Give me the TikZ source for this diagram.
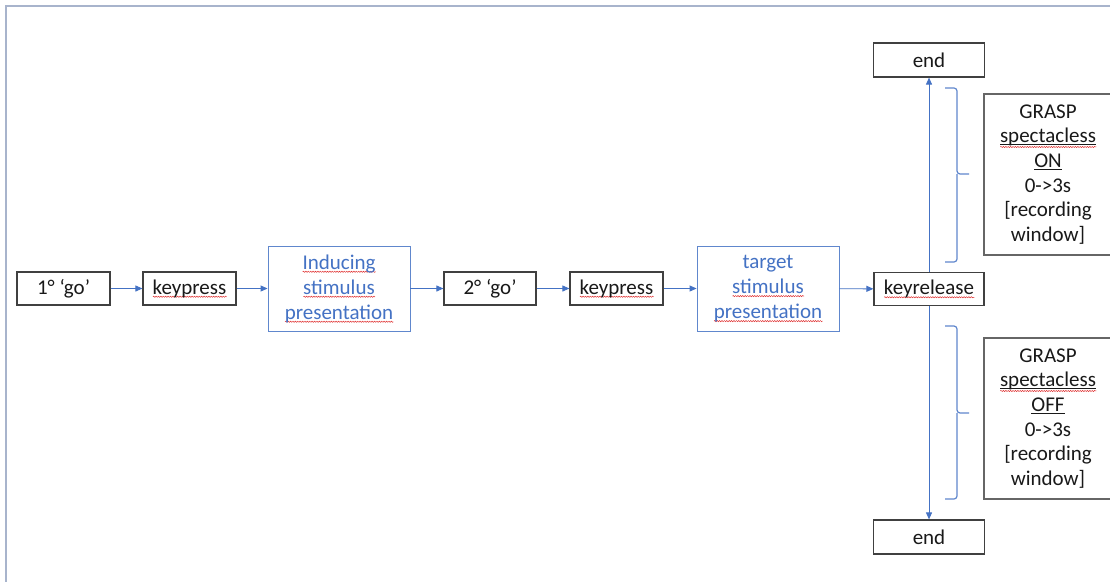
\documentclass[tikz,border=0pt]{standalone}
\usepackage{fontspec}
\setmainfont{Carlito}
\usetikzlibrary{arrows.meta,decorations.pathmorphing}
\definecolor{lnblue}{HTML}{4472C4}
\definecolor{txblue}{HTML}{4472C4}
\definecolor{bxgray}{HTML}{404040}
\definecolor{frgray}{HTML}{A8B4CC}
\definecolor{sqred}{HTML}{E03030}
\newsavebox\sqbox
\newlength\sqlen
\newcommand\sqw[2][3.5pt]{\sbox\sqbox{#2}\setlength\sqlen{\wd\sqbox}\leavevmode\rlap{\raisebox{-#1}[0pt][0pt]{\tikz[x=1pt,y=1pt]\draw[sqred,line width=0.5pt,decorate,decoration={snake,amplitude=0.6pt,segment length=2.4pt}] (0,0)--(\sqlen,0);}}\usebox\sqbox}
\newcommand\ulb[1]{\sbox\sqbox{#1}\setlength\sqlen{\wd\sqbox}\leavevmode\rlap{\rule[-2.2pt]{\sqlen}{1pt}}\usebox\sqbox}
\tikzset{
  blk/.style={draw=bxgray,line width=1.2pt,minimum height=33pt,inner sep=0pt,font=\fontsize{21}{25}\selectfont,text=black!90},
  stim/.style={draw=lnblue!85,line width=0.9pt,minimum width=142pt,minimum height=85pt,inner sep=0pt,align=center,font=\fontsize{21}{25}\selectfont,text=txblue},
  info/.style={draw=bxgray!80,line width=1.2pt,minimum width=128pt,minimum height=161pt,inner sep=0pt,align=center,font=\fontsize{21}{24.7}\selectfont,text=black!90},
  conn/.style={draw=lnblue,line width=0.9pt,-{Triangle[length=7pt,width=6pt]}},
  brc/.style={draw=lnblue!85,line width=1.2pt,rounded corners=3pt},
}
\begin{document}
\begin{tikzpicture}[x=1pt,y=-1pt]
\useasboundingbox (0,0) rectangle (1110,581);
\clip (0,0) rectangle (1110,581);
\fill[white] (0,0) rectangle (1110,581);
\draw[frgray,line width=1.5pt] (6,600) -- (6,6) -- (1130,6);
\node[blk,minimum width=93pt] (go1) at (63.5,288.5) {1° ‘go’};
\node[blk,minimum width=93pt] (kp1) at (189.5,288.5) {\sqw{keypress}};
\node[stim] (ind) at (339,288.5) {\sqw{Inducing}\\\sqw{stimulus}\\\sqw{presentation}};
\node[blk,minimum width=92pt] (go2) at (490,288.5) {2° ‘go’};
\node[blk,minimum width=93pt] (kp2) at (616.5,288.5) {\sqw{keypress}};
\node[stim] (tgt) at (768,288.5) {target\\\sqw{stimulus}\\\sqw{presentation}};
\node[blk,minimum width=110pt] (kr) at (929,289) {\sqw{keyrelease}};
\node[blk,minimum width=111pt,minimum height=34pt] (endt) at (929,60) {end};
\node[blk,minimum width=111pt,minimum height=34pt] (endb) at (929,537) {end};
\node[info] (on) at (1048,174.5) {GRASP\\\ulb{\sqw[5pt]{spectacless}}\\\ulb{ON}\\0->3s\\{[}recording\\window{]}};
\node[info] (off) at (1048,418.5) {GRASP\\\ulb{\sqw[5pt]{spectacless}}\\\ulb{OFF}\\0->3s\\{[}recording\\window{]}};
\draw[conn] (go1) -- (kp1);
\draw[conn] (kp1) -- (ind);
\draw[conn] (ind) -- (go2);
\draw[conn] (go2) -- (kp2);
\draw[conn] (kp2) -- (tgt);
\draw[conn] (tgt) -- (kr);
\draw[conn] (kr) -- (endt);
\draw[conn] (kr) -- (endb);
\draw[brc] (945,88) -- (957,88) -- (957,174) -- (969,174);
\draw[brc] (945,262) -- (957,262) -- (957,174);
\draw[brc] (945,326) -- (957,326) -- (957,413) -- (969,413);
\draw[brc] (945,499) -- (957,499) -- (957,413);
\end{tikzpicture}
\end{document}
